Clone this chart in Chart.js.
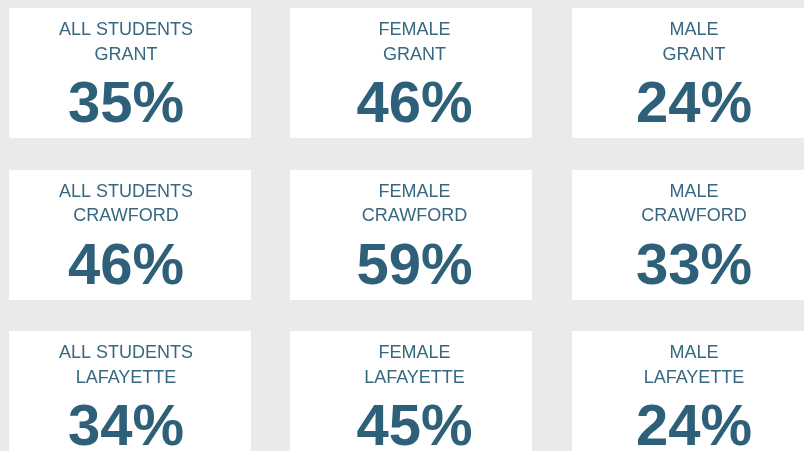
<!DOCTYPE html>
<html>
<head>
<meta charset="utf-8">
<script src="https://cdn.jsdelivr.net/npm/chart.js@4/dist/chart.umd.min.js"></script>
<style>
  html, body { margin: 0; padding: 0; background: #e8ebea; overflow: hidden; }
  #wrap { width: 804px; height: 451px; }
</style>
</head>
<body>
<div id="wrap"><canvas id="c" width="804" height="451"></canvas></div>
<script>
// ---- data ----
const groups = ['ALL STUDENTS', 'FEMALE', 'MALE'];
const schools = ['GRANT', 'CRAWFORD', 'LAFAYETTE'];
const allStudents = [35, 46, 34];
const female = [46, 59, 45];
const male = [24, 33, 24];
const seriesValues = [allStudents, female, male];

// ---- style ----
const CARD_W = 242, CARD_H = 130;
const TEXT_SHIFT = [-4, 3, 1];
const TITLE_COLOR = '#386880';
const NUM_COLOR = '#2e6179';
const FONT = '"Liberation Sans", Arial, Helvetica, sans-serif';

const datasets = groups.map((g, gi) => ({
  label: g,
  data: schools.map((s, si) => ({ x: gi, y: si, v: seriesValues[gi][si], group: g, school: s })),
  pointRadius: 0,
  pointHoverRadius: 0,
  showLine: false
}));

const cardPlugin = {
  id: 'cards',
  beforeDatasetsDraw(chart) {
    const ctx = chart.ctx;
    ctx.save();
    chart.data.datasets.forEach((ds, di) => {
      const meta = chart.getDatasetMeta(di);
      meta.data.forEach((el) => {
        ctx.fillStyle = '#ffffff';
        ctx.fillRect(Math.floor(el.x - CARD_W / 2), Math.round(el.y - CARD_H / 2), CARD_W, CARD_H);
      });
    });
    ctx.restore();
  },
  afterDatasetsDraw(chart) {
    const ctx = chart.ctx;
    ctx.save();
    ctx.textAlign = 'center';
    ctx.textBaseline = 'alphabetic';
    chart.data.datasets.forEach((ds, di) => {
      const meta = chart.getDatasetMeta(di);
      meta.data.forEach((el, i) => {
        const d = ds.data[i];
        const cx = el.x + TEXT_SHIFT[di];
        const top = el.y - CARD_H / 2;
        ctx.fillStyle = TITLE_COLOR;
        ctx.font = '18px ' + FONT;
        ctx.fillText(d.group, cx, top + 27);
        ctx.fillText(d.school, cx, top + 51.5);
        ctx.fillStyle = NUM_COLOR;
        ctx.font = 'bold 58px ' + FONT;
        ctx.fillText(d.v + '%', cx, top + 114);
      });
    });
    ctx.restore();
  }
};

new Chart(document.getElementById('c'), {
  type: 'scatter',
  data: { datasets },
  options: {
    responsive: false,
    devicePixelRatio: 1,
    animation: false,
    layout: { padding: { left: 130, right: 111, top: 73, bottom: 55 } },
    plugins: { legend: { display: false }, tooltip: { enabled: false } },
    events: [],
    scales: {
      x: { type: 'linear', min: 0, max: 2, display: false },
      y: { type: 'linear', min: 0, max: 2, reverse: true, display: false }
    }
  },
  plugins: [cardPlugin]
});
</script>
</body>
</html>
